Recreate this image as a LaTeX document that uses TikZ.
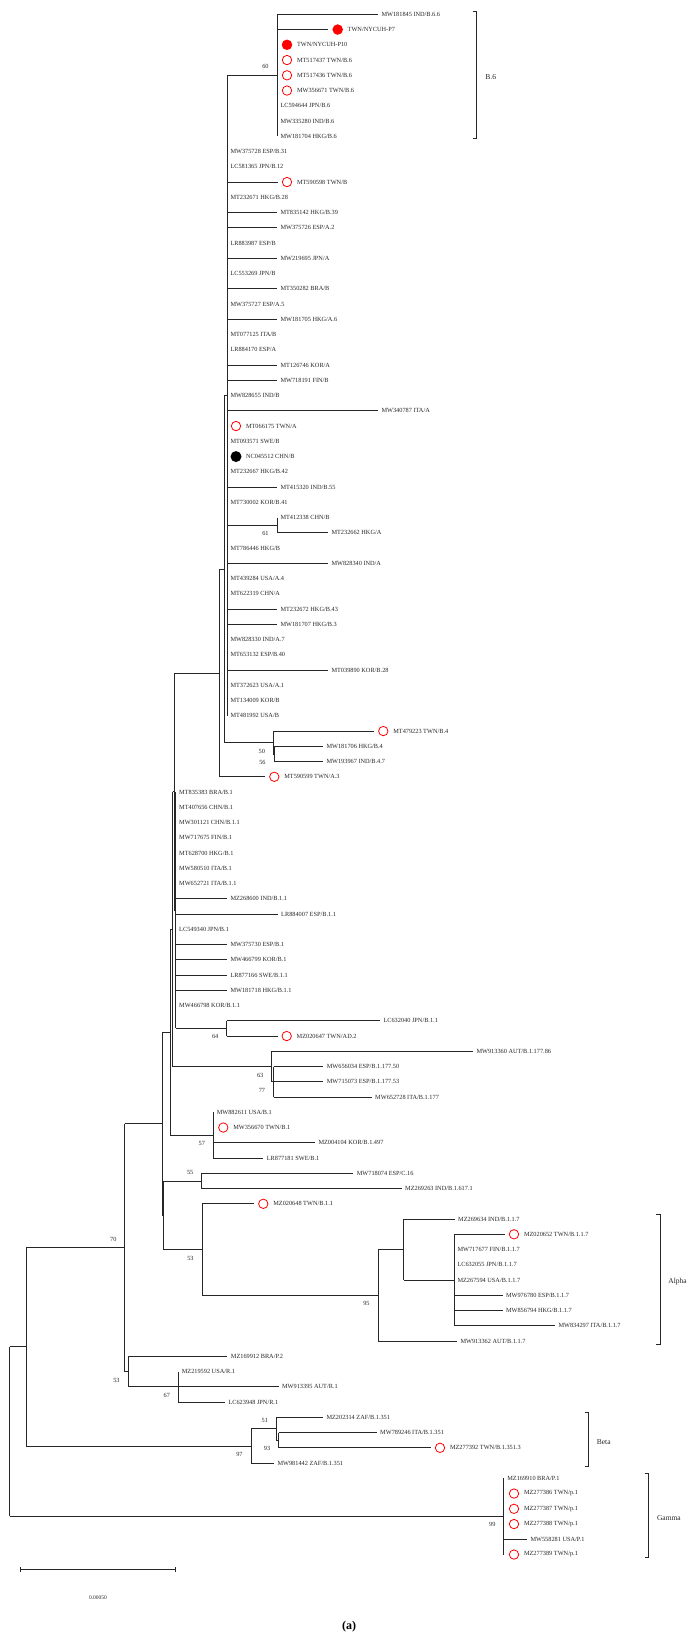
\documentclass[tikz,border=0pt]{standalone}
\usepackage{fontspec}
\setmainfont{Liberation Serif}
\usepackage{tikz}
\usetikzlibrary{arrows.meta}

\begin{document}
\begin{tikzpicture}[x=1pt, y=-15.25pt, line width=0.75pt, color=black!85,
  leaf/.style={anchor=west, inner xsep=3.5pt, inner ysep=0pt, outer sep=0pt, font=\fontsize{6.3}{7}\selectfont},
  twn/.style={circle, draw=red, line width=0.8pt, minimum size=9.4pt, inner sep=0pt, outer sep=4.5pt},
  nycuh/.style={circle, fill=red, minimum size=10.5pt, inner sep=0pt, outer sep=4.5pt},
  refseq/.style={circle, fill=black, minimum size=11pt, inner sep=0pt, outer sep=4.5pt},
  bsup/.style={anchor=east, inner sep=0pt, xshift=-8pt, yshift=8.5pt, font=\fontsize{6.3}{7}\selectfont},
  bsdn/.style={anchor=east, inner sep=0pt, xshift=-8pt, yshift=-8.5pt, font=\fontsize{6.3}{7}\selectfont},
  clade/.style={anchor=west, inner sep=0pt, font=\fontsize{7.5}{9}\selectfont}]
\useasboundingbox (0,0) rectangle (699,107.738);
\begin{scope}[yshift=-14.3pt]
% inner nodes
\coordinate (root) at (9.8,92.937);
\coordinate (n26) at (25.9,87.374);
\coordinate (n70) at (124.8,80.873);
\coordinate (n164) at (162.3,72.746);
\coordinate (n170) at (170,66.742);
\coordinate (n173) at (172.7,59.984);
\coordinate (nR1) at (174,50.969);
\coordinate (n219) at (219.3,43.188);
\coordinate (n224) at (224,36.375);
\coordinate (nA) at (227,25);
\coordinate (b6) at (277,4);
\coordinate (n61) at (277,33.5);
\coordinate (nB4) at (273.3,47.75);
\coordinate (nB4b) at (274,48.5);
\coordinate (nB1) at (175.7,58.75);
\coordinate (n64) at (226.7,66.5);
\coordinate (n177) at (271.7,69);
\coordinate (n177b) at (273.5,70);
\coordinate (n57) at (213.3,73.5);
\coordinate (nX) at (163.3,78.75);
\coordinate (n55) at (201.7,76.5);
\coordinate (n202) at (202,81);
\coordinate (nAl) at (378,84);
\coordinate (nAl2) at (403.5,81);
\coordinate (nAl3) at (454,83);
\coordinate (nP2) at (128,89);
\coordinate (nR) at (178.3,90);
\coordinate (nBe) at (251,93.875);
\coordinate (nBe1) at (276.4,92.75);
\coordinate (nBe2) at (278.6,93.5);
\coordinate (nGa) at (503.8,98.5);

% B.6
\node[leaf] (l0) at (378,0) {MW181845 IND/B.6.6};
\node[nycuh] (l1) at (337.7,1) {};
\node[leaf, xshift=6.5pt] (t1) at (l1) {TWN/NYCUH-P7};
\node[nycuh] (l2) at (287,2) {};
\node[leaf, xshift=6.5pt] (t2) at (l2) {TWN/NYCUH-P10};
\node[twn] (l3) at (287,3) {};
\node[leaf, xshift=6.5pt] (t3) at (l3) {MT517437 TWN/B.6};
\node[twn] (l4) at (287,4) {};
\node[leaf, xshift=6.5pt] (t4) at (l4) {MT517436 TWN/B.6};
\node[twn] (l5) at (287,5) {};
\node[leaf, xshift=6.5pt] (t5) at (l5) {MW356671 TWN/B.6};
\node[leaf] (l6) at (277,6) {LC594644 JPN/B.6};
\node[leaf] (l7) at (277,7) {MW335280 IND/B.6};
\node[leaf] (l8) at (277,8) {MW181704 HKG/B.6};

% lineage A / B
\node[leaf] (l9) at (227,9) {MW375728 ESP/B.31};
\node[leaf] (l10) at (227,10) {LC581365 JPN/B.12};
\node[twn] (l11) at (287,11) {};
\node[leaf, xshift=6.5pt] (t11) at (l11) {MT590598 TWN/B};
\node[leaf] (l12) at (227,12) {MT232671 HKG/B.28};
\node[leaf] (l13) at (277,13) {MT835142 HKG/B.39};
\node[leaf] (l14) at (277,14) {MW375726 ESP/A.2};
\node[leaf] (l15) at (227,15) {LR883987 ESP/B};
\node[leaf] (l16) at (277,16) {MW219695 JPN/A};
\node[leaf] (l17) at (227,17) {LC553269 JPN/B};
\node[leaf] (l18) at (277,18) {MT350282 BRA/B};
\node[leaf] (l19) at (227,19) {MW375727 ESP/A.5};
\node[leaf] (l20) at (277,20) {MW181705 HKG/A.6};
\node[leaf] (l21) at (227,21) {MT077125 ITA/B};
\node[leaf] (l22) at (227,22) {LR884170 ESP/A};
\node[leaf] (l23) at (277,23) {MT126746 KOR/A};
\node[leaf] (l24) at (277,24) {MW718191 FIN/B};
\node[leaf] (l25) at (227,25) {MW828655 IND/B};
\node[leaf] (l26) at (378,26) {MW340787 ITA/A};
\node[twn] (l27) at (236,27) {};
\node[leaf, xshift=6.5pt] (t27) at (l27) {MT066175 TWN/A};
\node[leaf] (l28) at (227,28) {MT093571 SWE/B};
\node[refseq] (l29) at (236,29) {};
\node[leaf, xshift=6.5pt] (t29) at (l29) {NC045512 CHN/B};
\node[leaf] (l30) at (227,30) {MT232667 HKG/B.42};
\node[leaf] (l31) at (277,31) {MT415320 IND/B.55};
\node[leaf] (l32) at (227,32) {MT730002 KOR/B.41};
\node[leaf] (l33) at (277,33) {MT412338 CHN/B};
\node[leaf] (l34) at (328,34) {MT232662 HKG/A};
\node[leaf] (l35) at (227,35) {MT786446 HKG/B};
\node[leaf] (l36) at (328,36) {MW828340 IND/A};
\node[leaf] (l37) at (227,37) {MT439284 USA/A.4};
\node[leaf] (l38) at (227,38) {MT622319 CHN/A};
\node[leaf] (l39) at (277,39) {MT232672 HKG/B.43};
\node[leaf] (l40) at (277,40) {MW181707 HKG/B.3};
\node[leaf] (l41) at (227,41) {MW828330 IND/A.7};
\node[leaf] (l42) at (227,42) {MT653132 ESP/B.40};
\node[leaf] (l43) at (328,43) {MT039890 KOR/B.28};
\node[leaf] (l44) at (227,44) {MT372623 USA/A.1};
\node[leaf] (l45) at (227,45) {MT134009 KOR/B};
\node[leaf] (l46) at (227,46) {MT481992 USA/B};
\node[twn] (l47) at (383.3,47) {};
\node[leaf, xshift=6.5pt] (t47) at (l47) {MT479223 TWN/B.4};
\node[leaf] (l48) at (323,48) {MW181706 HKG/B.4};
\node[leaf] (l49) at (323,49) {MW193967 IND/B.4.7};
\node[twn] (l50) at (274.3,50) {};
\node[leaf, xshift=6.5pt] (t50) at (l50) {MT590599 TWN/A.3};

% B.1
\node[leaf] (l51) at (175.7,51) {MT835383 BRA/B.1};
\node[leaf] (l52) at (175.7,52) {MT407656 CHN/B.1};
\node[leaf] (l53) at (175.7,53) {MW301121 CHN/B.1.1};
\node[leaf] (l54) at (175.7,54) {MW717675 FIN/B.1};
\node[leaf] (l55) at (175.7,55) {MT628700 HKG/B.1};
\node[leaf] (l56) at (175.7,56) {MW580510 ITA/B.1};
\node[leaf] (l57) at (175.7,57) {MW652721 ITA/B.1.1};
\node[leaf] (l58) at (227,58) {MZ268600 IND/B.1.1};
\node[leaf] (l59) at (277.7,59) {LR884007 ESP/B.1.1};
\node[leaf] (l60) at (175.7,60) {LC549340 JPN/B.1};
\node[leaf] (l61) at (227,61) {MW375730 ESP/B.1};
\node[leaf] (l62) at (227,62) {MW466799 KOR/B.1};
\node[leaf] (l63) at (227,63) {LR877166 SWE/B.1.1};
\node[leaf] (l64) at (227,64) {MW181718 HKG/B.1.1};
\node[leaf] (l65) at (175.7,65) {MW466798 KOR/B.1.1};
\node[leaf] (l66) at (380,66) {LC632040 JPN/B.1.1};
\node[twn] (l67) at (286.7,67) {};
\node[leaf, xshift=6.5pt] (t67) at (l67) {MZ020647 TWN/AD.2};
\node[leaf] (l68) at (473,68) {MW913360 AUT/B.1.177.86};
\node[leaf] (l69) at (323.3,69) {MW656034 ESP/B.1.177.50};
\node[leaf] (l70) at (323.3,70) {MW715073 ESP/B.1.177.53};
\node[leaf] (l71) at (371.7,71) {MW652728 ITA/B.1.177};
\node[leaf] (l72) at (213.3,72) {MW882611 USA/B.1};
\node[twn] (l73) at (223.3,73) {};
\node[leaf, xshift=6.5pt] (t73) at (l73) {MW356670 TWN/B.1};
\node[leaf] (l74) at (315,74) {MZ004104 KOR/B.1.497};
\node[leaf] (l75) at (263.3,75) {LR877181 SWE/B.1};
\node[leaf] (l76) at (353.3,76) {MW718074 ESP/C.16};
\node[leaf] (l77) at (401.7,77) {MZ269263 IND/B.1.617.1};
\node[twn] (l78) at (263.3,78) {};
\node[leaf, xshift=6.5pt] (t78) at (l78) {MZ020648 TWN/B.1.1};

% B.1.1.7
\node[leaf] (l79) at (454.7,79) {MZ269634 IND/B.1.1.7};
\node[twn] (l80) at (514,80) {};
\node[leaf, xshift=6.5pt] (t80) at (l80) {MZ020652 TWN/B.1.1.7};
\node[leaf] (l81) at (454,81) {MW717677 FIN/B.1.1.7};
\node[leaf] (l82) at (454,82) {LC632055 JPN/B.1.1.7};
\node[leaf] (l83) at (454,83) {MZ267594 USA/B.1.1.7};
\node[leaf] (l84) at (502.5,84) {MW976780 ESP/B.1.1.7};
\node[leaf] (l85) at (502.5,85) {MW856794 HKG/B.1.1.7};
\node[leaf] (l86) at (555,86) {MW834297 ITA/B.1.1.7};
\node[leaf] (l87) at (457,87) {MW913362 AUT/B.1.1.7};

% P.2, R.1
\node[leaf] (l88) at (227.4,88) {MZ169912 BRA/P.2};
\node[leaf] (l89) at (178.3,89) {MZ219592 USA/R.1};
\node[leaf] (l90) at (278.6,90) {MW913395 AUT/R.1};
\node[leaf] (l91) at (225,91) {LC623948 JPN/R.1};

% B.1.351
\node[leaf] (l92) at (323,92) {MZ202314 ZAF/B.1.351};
\node[leaf] (l93) at (376.7,93) {MW789246 ITA/B.1.351};
\node[twn] (l94) at (440,94) {};
\node[leaf, xshift=6.5pt] (t94) at (l94) {MZ277392 TWN/B.1.351.3};
\node[leaf] (l95) at (274,95) {MW981442 ZAF/B.1.351};

% P.1
\node[leaf] (l96) at (503.8,96) {MZ169910 BRA/P.1};
\node[twn] (l97) at (514,97) {};
\node[leaf, xshift=6.5pt] (t97) at (l97) {MZ277386 TWN/p.1};
\node[twn] (l98) at (514,98) {};
\node[leaf, xshift=6.5pt] (t98) at (l98) {MZ277387 TWN/p.1};
\node[twn] (l99) at (514,99) {};
\node[leaf, xshift=6.5pt] (t99) at (l99) {MZ277388 TWN/p.1};
\node[leaf] (l100) at (527,100) {MW558281 USA/P.1};
\node[twn] (l101) at (514,101) {};
\node[leaf, xshift=6.5pt] (t101) at (l101) {MZ277389 TWN/p.1};

% terminal branches
\foreach \i in {0,1} \draw (b6 |- l\i) -- (l\i);
\foreach \i in {11,13,14,16,18,20,23,24,26,31,36,39,40,43} \draw (nA |- l\i) -- (l\i);
\draw (n61 |- l34) -- (l34);
\draw (nB4 |- l47) -- (l47);
\foreach \i in {48,49} \draw (nB4b |- l\i) -- (l\i);
\draw (n219 |- l50) -- (l50);
\foreach \i in {58,59,61,62,63,64} \draw (nB1 |- l\i) -- (l\i);
\foreach \i in {66,67} \draw (n64 |- l\i) -- (l\i);
\draw (n177 |- l68) -- (l68);
\foreach \i in {69,70,71} \draw (n177b |- l\i) -- (l\i);
\foreach \i in {74,75} \draw (n57 |- l\i) -- (l\i);
\foreach \i in {76,77} \draw (n55 |- l\i) -- (l\i);
\draw (n202 |- l78) -- (l78);
\draw (nAl2 |- l79) -- (l79);
\foreach \i in {80,84,85,86} \draw (nAl3 |- l\i) -- (l\i);
\draw (nAl |- l87) -- (l87);
\draw (nP2 |- l88) -- (l88);
\foreach \i in {90,91} \draw (nR |- l\i) -- (l\i);
\draw (nBe1 |- l92) -- (l92);
\foreach \i in {93,94} \draw (nBe2 |- l\i) -- (l\i);
\draw (nBe |- l95) -- (l95);
\draw (nGa |- l100) -- (l100);

% inner branches
\draw (nA |- b6) -- (b6);
\draw (nA |- n61) -- (n61);
\draw (n224 |- nA) -- (nA);
\draw (n224 |- nB4) -- (nB4);
\draw (nB4 |- nB4b) -- (nB4b);
\draw (n219 |- n224) -- (n224);
\draw (nR1 |- n219) -- (n219);
\draw (nR1 |- nB1) -- (nB1);
\draw (nB1 |- n64) -- (n64);
\draw (n173 |- nR1) -- (nR1);
\draw (n173 |- n177) -- (n177);
\draw (n177 |- n177b) -- (n177b);
\draw (n170 |- n173) -- (n173);
\draw (n170 |- n57) -- (n57);
\draw (n164 |- n170) -- (n170);
\draw (nX |- n55) -- (n55);
\draw (nX |- n202) -- (n202);
\draw (n202 |- nAl) -- (nAl);
\draw (nAl |- nAl2) -- (nAl2);
\draw (nAl2 |- nAl3) -- (nAl3);
\draw (n164 |- nX) -- (nX);
\draw (n70 |- n164) -- (n164);
\draw (n70 |- nP2) -- (nP2);
\draw (nP2 |- nR) -- (nR);
\draw (n26 |- n70) -- (n70);
\draw (n26 |- nBe) -- (nBe);
\draw (nBe |- nBe1) -- (nBe1);
\draw (nBe1 |- nBe2) -- (nBe2);
\draw (root |- n26) -- (n26);
\draw (root |- nGa) -- (nGa);

% verticals
\draw (b6 |- l0) -- (b6 |- l8);
\draw (n61 |- l33) -- (n61 |- l34);
\draw (nA |- b6) -- (nA |- l46);
\draw (nB4 |- l47) -- (nB4 |- nB4b);
\draw (nB4b |- l48) -- (nB4b |- l49);
\draw (n224 |- nA) -- (n224 |- nB4);
\draw (n219 |- n224) -- (n219 |- l50);
\draw (nB1 |- l51) -- (nB1 |- n64);
\draw (n64 |- l66) -- (n64 |- l67);
\draw (nR1 |- n219) -- (nR1 |- nB1);
\draw (n177 |- l68) -- (n177 |- n177b);
\draw (n177b |- l69) -- (n177b |- l71);
\draw (n173 |- nR1) -- (n173 |- n177);
\draw (n57 |- l72) -- (n57 |- l75);
\draw (n170 |- n173) -- (n170 |- n57);
\draw (n55 |- l76) -- (n55 |- l77);
\draw (nAl3 |- l80) -- (nAl3 |- l86);
\draw (nAl2 |- l79) -- (nAl2 |- nAl3);
\draw (nAl |- nAl2) -- (nAl |- l87);
\draw (n202 |- l78) -- (n202 |- nAl);
\draw (nX |- n55) -- (nX |- n202);
\draw (n164 |- n170) -- (n164 |- nX);
\draw (nR |- l89) -- (nR |- l91);
\draw (nP2 |- l88) -- (nP2 |- nR);
\draw (n70 |- n164) -- (n70 |- nP2);
\draw (nBe2 |- l93) -- (nBe2 |- l94);
\draw (nBe1 |- l92) -- (nBe1 |- nBe2);
\draw (nBe |- nBe1) -- (nBe |- l95);
\draw (n26 |- n70) -- (n26 |- nBe);
\draw (nGa |- l96) -- (nGa |- l101);
\draw (root |- n26) -- (root |- nGa);

% bootstrap values
\node[bsup] (bs60) at (b6) {60};
\node[bsdn] (bs61) at (n61) {61};
\node[bsdn] (bs50) at (nB4) {50};
\node[bsdn] (bs56) at (nB4b) {56};
\node[bsdn] (bs64) at (n64) {64};
\node[bsdn] (bs63) at (n177) {63};
\node[bsdn] (bs77) at (n177b) {77};
\node[bsdn] (bs57) at (n57) {57};
\node[bsup] (bs55) at (n55) {55};
\node[bsdn] (bs53a) at (n202) {53};
\node[bsdn] (bs95) at (nAl) {95};
\node[bsup] (bs70) at (n70) {70};
\node[bsdn] (bs53b) at (nP2) {53};
\node[bsdn] (bs67) at (nR) {67};
\node[bsdn] (bs97) at (nBe) {97};
\node[bsup] (bs51) at (nBe1) {51};
\node[bsdn] (bs93) at (nBe2) {93};
\node[bsdn] (bs99) at (nGa) {99};

% clade brackets
\draw (472.7,-0.22) -- (476.7,-0.22) -- (476.7,8.11) -- (472.7,8.11);
\node[clade] (cB6) at (485,4.13) {B.6};
\draw (656,78.7) -- (660,78.7) -- (660,87.2) -- (656,87.2);
\node[clade] (cAlpha) at (668,83.1) {Alpha};
\draw (584.5,91.7) -- (588.5,91.7) -- (588.5,95.2) -- (584.5,95.2);
\node[clade] (cBeta) at (596.5,93.6) {Beta};
\draw (644.7,95.7) -- (648.7,95.7) -- (648.7,101.2) -- (644.7,101.2);
\node[clade] (cGamma) at (656.7,98.6) {Gamma};

% scale bar
\coordinate (sbl) at (20,102.0);
\coordinate (sbr) at (176,102.0);
\draw[{Bar[width=5pt]}-{Bar[width=5pt]}] (sbl) -- (sbr);
\node[font=\fontsize{5.5}{6}\selectfont] (sbt) at (98,103.8) {0.00050};
\node[font=\bfseries\fontsize{12}{14}\selectfont, text=black] (panel) at (349,105.7) {(a)};
\end{scope}
\end{tikzpicture}
\end{document}
